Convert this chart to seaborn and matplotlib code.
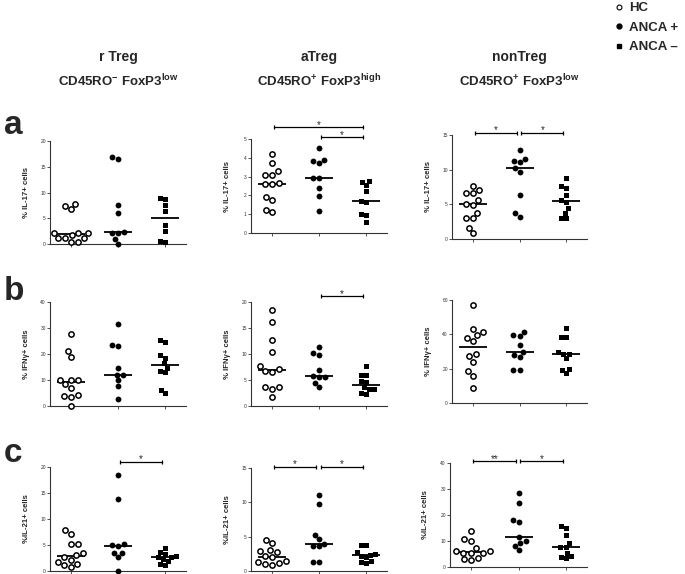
import matplotlib
matplotlib.use("Agg")
import matplotlib.pyplot as plt
from matplotlib.lines import Line2D
import numpy as np
import pandas as pd
import seaborn as sns

groups = ["HC", "ANCA +", "ANCA \u2013"]

# row a: % IL-17+ cells
rtreg_il17_hc = [7.8, 7.4, 6.7, 2.2, 2.2, 2.2, 1.7, 1.1, 1.1, 1.1, 0.3, 0.3]
rtreg_il17_pos = [16.9, 16.5, 7.6, 6.0, 2.3, 2.1, 2.2, 1.0, 0.0]
rtreg_il17_neg = [8.9, 8.8, 7.6, 6.4, 3.6, 2.6, 0.5, 0.4]
atreg_il17_hc = [4.2, 3.7, 3.3, 3.1, 3.1, 2.65, 2.6, 2.6, 1.9, 1.75, 1.25, 1.1]
atreg_il17_pos = [4.5, 3.9, 3.85, 3.75, 2.95, 2.9, 2.4, 1.95, 1.15]
atreg_il17_neg = [2.75, 2.7, 2.55, 2.25, 1.7, 1.65, 1.0, 0.95, 0.6]
nontreg_il17_hc = [7.7, 7.1, 6.6, 6.6, 5.6, 5.1, 4.9, 3.8, 3.1, 3.0, 1.6, 0.8]
nontreg_il17_pos = [12.8, 11.5, 11.3, 11.1, 10.2, 9.7, 6.3, 3.8, 3.2]
nontreg_il17_neg = [8.8, 7.7, 7.4, 6.3, 5.6, 5.3, 4.4, 3.8, 3.1, 3.1]

# row b: % IFNy+ cells
rtreg_ifng_hc = [27.6, 21.1, 18.8, 10.0, 10.0, 9.9, 8.4, 6.8, 4.1, 3.9, 3.3, 0.1]
rtreg_ifng_pos = [31.4, 23.5, 23.1, 14.8, 12.1, 12.1, 9.9, 7.6, 2.6]
rtreg_ifng_neg = [25.2, 24.5, 19.5, 18.6, 16.4, 14.8, 13.6, 13.0, 6.3, 4.9]
atreg_ifng_hc = [18.5, 16.1, 12.6, 10.4, 7.7, 7.1, 6.7, 6.6, 3.7, 3.7, 3.2, 1.7]
atreg_ifng_pos = [11.4, 10.2, 9.8, 7.0, 5.8, 5.5, 5.5, 4.4, 3.6]
atreg_ifng_neg = [7.6, 5.9, 5.9, 4.8, 4.6, 3.6, 3.2, 3.2, 2.5, 2.4]
nontreg_ifng_hc = [57.1, 42.9, 41.1, 39.4, 38.0, 36.1, 28.8, 27.3, 24.0, 18.7, 15.6, 8.8]
nontreg_ifng_pos = [41.3, 39.4, 38.8, 33.7, 29.6, 27.7, 26.7, 19.3, 19.3]
nontreg_ifng_neg = [43.7, 38.4, 38.2, 29.8, 28.8, 28.8, 26.3, 19.7, 19.5, 17.5]

# row c: % IL-21+ cells
rtreg_il21_hc = [7.8, 7.1, 5.2, 5.1, 3.4, 3.1, 2.6, 2.2, 1.7, 1.4, 1.1, 0.8]
rtreg_il21_pos = [18.4, 13.8, 5.2, 5.0, 4.9, 3.5, 3.5, 2.6, 0.0]
rtreg_il21_neg = [4.5, 3.6, 3.3, 2.9, 2.7, 2.6, 2.4, 1.9, 1.3, 1.1]
atreg_il21_hc = [4.5, 4.1, 3.0, 2.9, 2.7, 2.2, 2.0, 1.4, 1.3, 1.2, 1.0, 0.9]
atreg_il21_pos = [11.0, 9.8, 5.3, 4.7, 4.0, 3.7, 3.6, 1.3, 1.3]
atreg_il21_neg = [3.8, 3.8, 2.7, 2.5, 2.4, 2.2, 2.0, 1.5, 1.3, 1.2]
nontreg_il21_hc = [14.0, 10.9, 10.1, 7.4, 6.3, 6.3, 5.5, 5.5, 5.5, 3.5, 2.9, 2.8]
nontreg_il21_pos = [28.6, 24.7, 18.1, 17.2, 11.7, 10.0, 9.1, 8.2, 6.5]
nontreg_il21_neg = [15.9, 15.0, 12.2, 9.4, 7.8, 7.8, 5.4, 4.2, 3.7, 3.5]

row_labels = ["% IL-17+ cells", "% IFN\u03b3+ cells", "%IL-21+ cells"]
y_max = [[20, 5, 15], [40, 20, 60], [20, 15, 40]]
y_step = [[5, 1, 5], [10, 5, 20], [5, 5, 10]]
col_titles = ["r Treg", "aTreg", "nonTreg"]
col_subtitles = [r"CD45RO$^{-}$ FoxP3$^{low}$", r"CD45RO$^{+}$ FoxP3$^{high}$", r"CD45RO$^{+}$ FoxP3$^{low}$"]

# significance bars: (row, col, from, to, y, label)
sig_bars = [
    (0, 1, 0, 2, 5.64, "*"), (0, 1, 1, 2, 5.1, "*"),
    (0, 2, 0, 1, 15.33, "*"), (0, 2, 1, 2, 15.33, "*"),
    (1, 1, 1, 2, 21.15, "*"),
    (2, 0, 1, 2, 21.0, "*"),
    (2, 1, 0, 1, 15.2, "*"), (2, 1, 1, 2, 15.2, "*"),
    (2, 2, 0, 1, 40.8, "**"), (2, 2, 1, 2, 40.8, "*"),
]

panels = [
    [(rtreg_il17_hc, rtreg_il17_pos, rtreg_il17_neg),
     (atreg_il17_hc, atreg_il17_pos, atreg_il17_neg),
     (nontreg_il17_hc, nontreg_il17_pos, nontreg_il17_neg)],
    [(rtreg_ifng_hc, rtreg_ifng_pos, rtreg_ifng_neg),
     (atreg_ifng_hc, atreg_ifng_pos, atreg_ifng_neg),
     (nontreg_ifng_hc, nontreg_ifng_pos, nontreg_ifng_neg)],
    [(rtreg_il21_hc, rtreg_il21_pos, rtreg_il21_neg),
     (atreg_il21_hc, atreg_il21_pos, atreg_il21_neg),
     (nontreg_il21_hc, nontreg_il21_pos, nontreg_il21_neg)],
]

# axes boxes in pixels (left, top, right, bottom)
boxes = [
    [(50, 141, 186, 244), (251, 139, 387, 233), (452, 135, 587, 239)],
    [(50, 302, 186, 406), (251, 302, 387, 406), (452, 300, 587, 403)],
    [(50, 467, 186, 571), (251, 468, 387, 571), (450, 463, 587, 567)],
]

sns.set_style("ticks")
plt.rcParams["font.family"] = ["Liberation Sans", "DejaVu Sans"]
plt.rcParams["mathtext.fontset"] = "custom"
plt.rcParams["mathtext.rm"] = "Liberation Sans:bold"
plt.rcParams["mathtext.it"] = "Liberation Sans:bold"
plt.rcParams["mathtext.bf"] = "Liberation Sans:bold"

W, H = 685, 574
fig = plt.figure(figsize=(W / 100, H / 100), dpi=100)


def draw_panel(ax, hc, pos, neg, ymax, ystep, ylabel):
    df = pd.DataFrame({
        "group": [groups[0]] * len(hc) + [groups[1]] * len(pos) + [groups[2]] * len(neg),
        "value": hc + pos + neg,
    })
    sns.swarmplot(data=df[df.group == groups[0]], x="group", y="value", order=groups, ax=ax,
                  marker="o", color="white", edgecolor="black", linewidth=1.1, size=3.8, clip_on=False)
    sns.swarmplot(data=df[df.group == groups[1]], x="group", y="value", order=groups, ax=ax,
                  marker="o", color="black", size=4.2, clip_on=False)
    sns.swarmplot(data=df[df.group == groups[2]], x="group", y="value", order=groups, ax=ax,
                  marker="s", color="black", size=3.6, clip_on=False)
    sns.pointplot(data=df, x="group", y="value", order=groups, ax=ax, estimator="median",
                  errorbar=None, color="black", marker="_", markersize=20, markeredgewidth=1.3,
                  linestyle="none")
    ax.set_xlim(-0.45, 2.45)
    ax.set_ylim(0, ymax)
    ax.set_yticks(np.arange(0, ymax + ystep / 2, ystep))
    ax.set_xticks([0, 1, 2])
    ax.set_xticklabels([])
    ax.set_xlabel("")
    ax.set_ylabel(ylabel, fontsize=5.6, fontweight="bold")
    ax.yaxis.set_label_coords(-0.15, 0.5)
    sns.despine(ax=ax)
    for s in ["left", "bottom"]:
        ax.spines[s].set_linewidth(0.8)
        ax.spines[s].set_color("#333333")
    ax.tick_params(length=2, width=0.6, labelsize=3.5, pad=1, colors="#333333")


axes = {}
for r in range(3):
    for c in range(3):
        l, t, rr, b = boxes[r][c]
        ax = fig.add_axes([l / W, 1 - b / H, (rr - l) / W, (b - t) / H])
        hc, pos, neg = panels[r][c]
        draw_panel(ax, hc, pos, neg, y_max[r][c], y_step[r][c], row_labels[r])
        axes[(r, c)] = ax

for r, c, i, j, y, lab in sig_bars:
    ax = axes[(r, c)]
    ax.plot([i + 0.04, j - 0.06], [y, y], color="black", lw=0.9, marker="|",
            markersize=3.5, markeredgewidth=0.9, clip_on=False)
    ax.annotate(lab, xy=((i + j - 0.02) / 2, y), xytext=(0, -0.5), textcoords="offset points",
                ha="center", va="baseline", fontsize=7, annotation_clip=False)

# panel letters
for lab, yb in zip(["a", "b", "c"], [134, 300, 462]):
    fig.text(4 / W, 1 - yb / H, lab, fontsize=24, fontweight="bold", va="baseline", ha="left")

# column headers
for c in range(3):
    l, t, rr, b = boxes[1][c]
    xc = (l + rr) / 2 / W
    fig.text(xc, 1 - 57 / H, col_titles[c], ha="center", va="center", fontsize=10, fontweight="bold")
    fig.text(xc, 1 - 81 / H, col_subtitles[c], ha="center", va="center", fontsize=9.5, fontweight="bold")

handles = [
    Line2D([], [], ls="none", marker="o", mfc="white", mec="black", mew=0.8, ms=3.5),
    Line2D([], [], ls="none", marker="o", color="black", ms=3.5),
    Line2D([], [], ls="none", marker="s", color="black", ms=3),
]
fig.legend(handles, groups, loc="upper left", bbox_to_anchor=(612 / W, 1 - 2 / H), frameon=False,
           prop={"weight": "bold", "size": 9.5}, handletextpad=0.3, labelspacing=0.55,
           handlelength=1, borderaxespad=0, borderpad=0)

fig.savefig("out.png", dpi=100)
